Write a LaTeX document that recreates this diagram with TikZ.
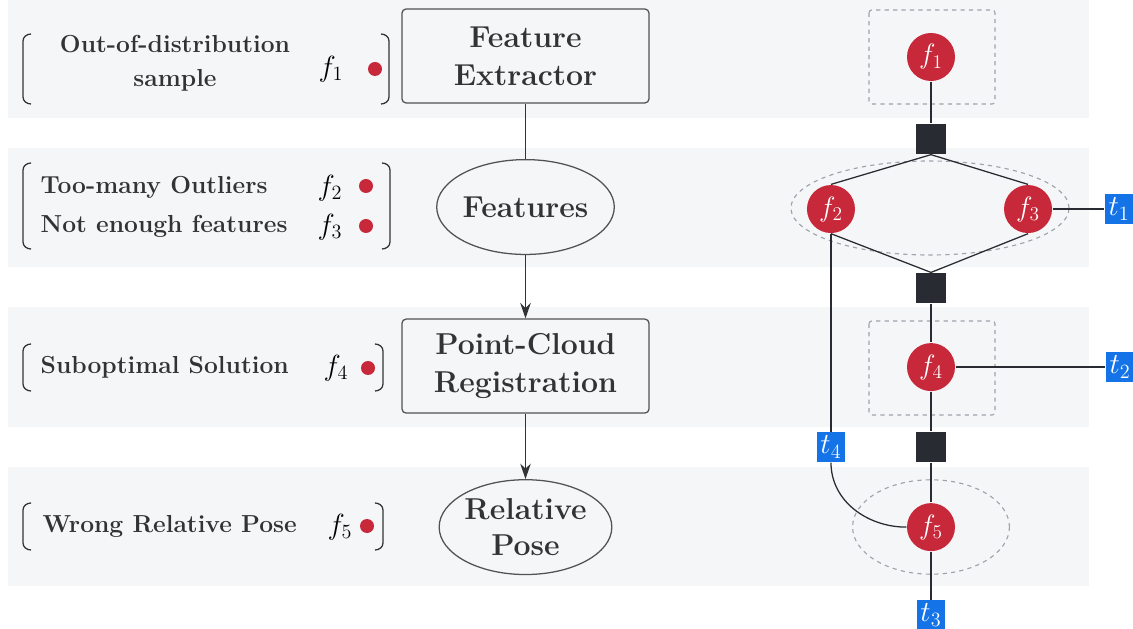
\documentclass[tikz,border=0pt]{standalone}
\usepackage{amsmath}
\usepackage{graphicx}
\usetikzlibrary{arrows.meta, positioning, shapes.geometric}
\definecolor{band}{HTML}{F5F6F8}
\definecolor{ink}{HTML}{333333}
\definecolor{dotred}{HTML}{C8293A}
\definecolor{tblue}{HTML}{1473E6}
\definecolor{fdark}{HTML}{282B31}
\definecolor{grpgray}{HTML}{9EA3AA}
\newcommand{\lmath}[1]{\scalebox{1.2}{$#1$}}
\newcommand{\vmath}[1]{\scalebox{1.15}{$#1$}}
\newcommand{\tmath}[1]{\scalebox{1.2}{$#1$}}

\begin{document}
\begin{tikzpicture}[x=0.025cm, y=0.025cm, on grid, line width=0.9pt,
  note/.style={inner sep=0pt, anchor=west, text=ink, font=\fontsize{17.5}{24}\selectfont\bfseries},
  fmath/.style={inner sep=0pt, text=black, font=\fontsize{17.28}{20}\selectfont},
  dot/.style={circle, fill=dotred, minimum size=0.35cm, inner sep=0pt},
  proc/.style={draw=ink!85, rounded corners=3pt, minimum width=6.175cm, minimum height=2.35cm, align=center, text=ink, font=\fontsize{21.5}{27}\selectfont\bfseries},
  data/.style={ellipse, draw=ink!85, minimum width=4.3cm, minimum height=2.37cm, inner sep=0pt, align=center, text=ink, font=\fontsize{21.5}{25}\selectfont\bfseries},
  fvar/.style={circle, fill=dotred, minimum size=1.2cm, inner sep=0pt, text=white, font=\fontsize{17.28}{20}\selectfont},
  factor/.style={rectangle, fill=fdark, minimum size=0.75cm, inner sep=0pt},
  tvar/.style={rectangle, fill=tblue, minimum width=0.7cm, minimum height=0.74cm, inner sep=0pt, text=white, font=\fontsize{17.28}{20}\selectfont},
  grp/.style={draw=grpgray, dashed, line width=0.8pt},
  wire/.style={draw=fdark, line width=0.9pt},
  bracket/.style={draw=ink, line width=0.9pt}]
\useasboundingbox (0,0) rectangle (1133,-629);

% background bands
\foreach \ya/\yb in {0/118, 148/267, 307/427, 467/586}
  \fill[band] (8,-\ya) rectangle (1089,-\yb);

% brackets round the notes
\foreach \ya/\yb/\xr in {34/104/389, 163/249/390, 344/391/383, 503/550/383} {
  \draw[bracket] (31,-\ya) to[out=180,in=90] (23,{-\ya-7}) -- (23,{-\yb+7}) to[out=-90,in=180] (31,-\yb);
  \draw[bracket] ({\xr-8},-\ya) to[out=0,in=90] (\xr,{-\ya-7}) -- (\xr,{-\yb+7}) to[out=-90,in=0] ({\xr-8},-\yb);
}

% failure notes
\node[note, anchor=center, align=center] (L1) at (175,-63) {Out-of-distribution\\sample};
\node[fmath] (m1) at (331,-69) {\lmath{f_1}};
\node[dot] (d1) at (375,-69) {};
\node[note] (L2) at (40,-187) {Too-many Outliers};
\node[note] (L3) at (40,-226) {Not enough features};
\node[fmath] (m2) at (330,-188) {\lmath{f_2}};
\node[fmath] (m3) at (330,-227) {\lmath{f_3}};
\node[dot] (d2) at (366,-186) {};
\node[dot] (d3) at (366,-226) {};
\node[note] (L4) at (40,-367) {Suboptimal Solution};
\node[fmath] (m4) at (336,-368) {\lmath{f_4}};
\node[dot] (d4) at (368,-368) {};
\node[note] (L5) at (42,-526) {Wrong Relative Pose};
\node[fmath] (m5) at (340,-527) {\lmath{f_5}};
\node[dot] (d5) at (367,-526) {};

% pipeline
\node[proc] (FE) at (525.5,-56) {Feature\\Extractor};
\node[data] (FT) [below=3.775cm of FE] {Features};
\node[proc] (PCR) [below=3.975cm of FT] {Point-Cloud\\Registration};
\node[data] (RP) [below=4.025cm of PCR] {Relative\\Pose};
\draw[ink] (FE) -- (FT);
\draw[ink, -{Stealth[length=11pt,width=7.5pt]}] (FT) -- (PCR);
\draw[ink, -{Stealth[length=11pt,width=7.5pt]}] (PCR) -- (RP);

% factor graph groups
\draw[grp, rounded corners=2pt] (869,-10) rectangle (995,-104);
\draw[grp] (930,-208) ellipse [x radius=3.475cm, y radius=1.175cm];
\draw[grp, rounded corners=2pt] (869,-321) rectangle (995,-415);
\draw[grp] (931,-527) ellipse [x radius=1.96cm, y radius=1.18cm];

% factor graph
\node[fvar] (f1) at (931,-57) {\vmath{f_1}};
\node[factor] (F1) [below=2.05cm of f1] {};
\node[fvar] (f2) [below left=1.75cm and 2.5cm of F1] {\vmath{f_2}};
\node[fvar] (f3) [below right=1.75cm and 2.425cm of F1] {\vmath{f_3}};
\node[factor] (F2) [below=3.725cm of F1] {};
\node[fvar] (f4) [below=1.975cm of F2] {\vmath{f_4}};
\node[factor] (F3) [below=2cm of f4] {};
\node[fvar] (f5) [below=2cm of F3] {\vmath{f_5}};
\node[tvar] (t1) [right=2.275cm of f3] {\tmath{t_1}};
\node[tvar] (t2) [right=4.725cm of f4] {\tmath{t_2}};
\node[tvar] (t3) [below=2.2cm of f5] {\tmath{t_3}};
\node[tvar] (t4) [below=5.95cm of f2] {\tmath{t_4}};

\draw[wire] (f1) -- (F1);
\draw[wire] (F1.south) -- (f2.north);
\draw[wire] (F1.south) -- (f3.north);
\draw[wire] (f2.south) -- (F2.north);
\draw[wire] (f3.south) -- (F2.north);
\draw[wire] (f3) -- (t1);
\draw[wire] (F2) -- (f4);
\draw[wire] (f4) -- (t2);
\draw[wire] (f4) -- (F3);
\draw[wire] (F3) -- (f5);
\draw[wire] (f5) -- (t3);
\draw[wire] (f2.south) -- (t4.north);
\draw[wire] (t4.south) to[out=-90,in=180] (f5.west);
\end{tikzpicture}
\end{document}
